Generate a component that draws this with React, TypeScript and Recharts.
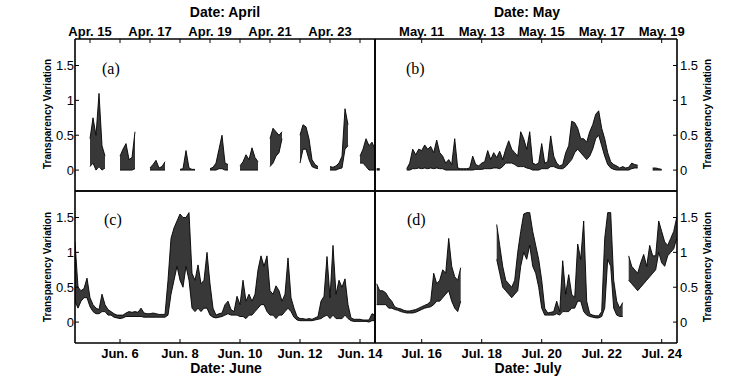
import { AreaChart, Area, XAxis, YAxis } from 'recharts'

// each band entry is [low, high] of the scatter at that time step, null = no data
const STEP = 0.1
const Y_DOMAIN = [-0.3, 1.88]
const Y_TICKS = [0, 0.5, 1, 1.5]

const APR_START = 14.5
const aprilBand = [
  null, null, null, null, null, [0.05, 0.45], [0.1, 0.75], [0, 0.5], [0.05, 1.1], [0, 0.35],
  [0.03, 0.2], null, null, null, null, [0, 0.2], [0, 0.3], [0, 0.38], [0, 0.15], [0, 0.18],
  [0.02, 0.55], null, null, null, null, [0, 0.03], [0, 0.08], [0, 0.14], [0, 0.03], [0, 0.05],
  [0, 0.12], null, null, null, null, [0, 0.01], [0, 0.02], [0, 0.28], [0, 0.03], [0, 0.01],
  [0, 0.01], null, null, null, null, [0, 0.02], [0, 0.04], [0, 0.1], [0.02, 0.3], [0.02, 0.5],
  [0, 0.1], [0, 0.08], null, null, null, [0, 0.06], [0, 0.12], [0, 0.22], [0, 0.15], [0, 0.32],
  [0, 0.18], [0, 0.12], null, null, null, [0.05, 0.45], [0.1, 0.6], [0.2, 0.55], [0.25, 0.5], [0.45, 0.55],
  null, null, null, null, null, [0.1, 0.5], [0.3, 0.65], [0.3, 0.62], [0.15, 0.45], [0.05, 0.15],
  [0.03, 0.08], [0.02, 0.05], null, null, null, [0, 0.05], [0, 0.04], [0, 0.06], [0.02, 0.1], [0.03, 0.2],
  [0.3, 0.88], [0.35, 0.65], null, null, null, [0.1, 0.2], [0.1, 0.3], [0.05, 0.45], [0, 0.35], [0, 0.4],
  [0, 0.3],
]
const aprilTicks = [15, 16, 17, 18, 19, 20, 21, 22, 23, 24]
const aprilLabels = [15, 17, 19, 21, 23]

const MAY_START = 9.5
const mayBand = [
  [0, 0.02], [0, 0.02], null, null, null, null, null, null, null, null,
  [0, 0.02], [0, 0.1], [0.02, 0.3], [0.02, 0.22], [0.03, 0.3], [0.02, 0.28], [0.03, 0.36], [0.02, 0.3], [0.03, 0.34], [0.02, 0.25],
  [0.03, 0.43], [0.02, 0.25], [0.02, 0.2], [0, 0.1], [0, 0.15], [0, 0.08], [0, 0.45], [0, 0.03], [0, 0.02], [0, 0.02],
  [0, 0.02], [0, 0.03], [0, 0.2], [0.01, 0.08], [0.01, 0.06], [0.01, 0.1], [0.02, 0.12], [0.02, 0.28], [0.02, 0.15], [0.03, 0.25],
  [0.03, 0.18], [0.02, 0.27], [0.05, 0.15], [0.1, 0.3], [0.1, 0.42], [0.1, 0.3], [0.08, 0.25], [0.05, 0.2], [0.05, 0.55], [0.05, 0.45],
  [0.03, 0.3], [0.02, 0.55], [0, 0.1], [0, 0.08], [0, 0.1], [0.02, 0.38], [0.02, 0.1], [0.02, 0.12], [0.05, 0.49], [0.05, 0.2],
  [0.03, 0.1], [0.02, 0.06], [0.02, 0.08], [0.05, 0.25], [0.1, 0.35], [0.15, 0.7], [0.25, 0.68], [0.3, 0.6], [0.25, 0.45], [0.2, 0.45],
  [0.15, 0.4], [0.2, 0.55], [0.3, 0.65], [0.45, 0.8], [0.5, 0.85], [0.35, 0.6], [0.2, 0.45], [0.08, 0.25], [0.03, 0.12], [0.01, 0.08],
  [0, 0.06], [0, 0.03], [0, 0.05], [0, 0.03], [0, 0.04], [0.02, 0.1], [0.03, 0.08], [0.03, 0.07], null, null,
  null, null, [0, 0.03], [0, 0.03], [0, 0.02], [0, 0.01], null, null, null, null,
  null,
]
const mayTicks = [11, 13, 15, 17, 19]

const JUN_START = 4.5
const juneBand = [
  [0.3, 1.15], [0.2, 0.5], [0.3, 0.45], [0.35, 0.48], [0.35, 0.63], [0.22, 0.35], [0.15, 0.25], [0.12, 0.2], [0.12, 0.18], [0.15, 0.4],
  [0.15, 0.25], [0.1, 0.18], [0.1, 0.15], [0.07, 0.12], [0.06, 0.1], [0.05, 0.1], [0.06, 0.1], [0.08, 0.13], [0.08, 0.15], [0.08, 0.14],
  [0.08, 0.15], [0.08, 0.14], [0.08, 0.2], [0.07, 0.13], [0.07, 0.12], [0.07, 0.12], [0.07, 0.13], [0.07, 0.12], [0.07, 0.11], [0.07, 0.11],
  [0.07, 0.11], [0.1, 0.6], [0.4, 1.2], [0.6, 1.35], [0.8, 1.45], [0.6, 1.55], [0.5, 1.5], [0.8, 1.5], [0.6, 1.57], [0.2, 0.7],
  [0.15, 0.6], [0.2, 0.82], [0.15, 0.55], [0.2, 0.6], [0.2, 1.0], [0.1, 0.55], [0.07, 0.2], [0.06, 0.1], [0.07, 0.12], [0.08, 0.13],
  [0.1, 0.25], [0.12, 0.3], [0.1, 0.18], [0.1, 0.15], [0.1, 0.37], [0.08, 0.25], [0.08, 0.6], [0.05, 0.3], [0.1, 0.4], [0.1, 0.3],
  [0.15, 0.4], [0.2, 0.75], [0.25, 0.95], [0.25, 0.8], [0.15, 0.95], [0.1, 0.45], [0.1, 0.4], [0.05, 0.52], [0.1, 0.45], [0.1, 0.3],
  [0.15, 0.4], [0.2, 0.92], [0.15, 0.35], [0.07, 0.2], [0.03, 0.08], [0.02, 0.05], [0.02, 0.05], [0.02, 0.04], [0.02, 0.05], [0.02, 0.04],
  [0.03, 0.06], [0.04, 0.08], [0.05, 0.3], [0.08, 0.37], [0.1, 0.94], [0.05, 0.35], [0.1, 1.1], [0.05, 0.4], [0.05, 0.6], [0.05, 0.5],
  [0.1, 0.62], [0.05, 0.25], [0.02, 0.06], [0.01, 0.04], [0.01, 0.04], [0.01, 0.04], [0.01, 0.03], [0.01, 0.03], [0, 0.03], [0.02, 0.12],
  [0.02, 0.1],
]
const juneTicks = [6, 8, 10, 12, 14]

const JUL_START = 14.5
const julyBand = [
  [0.25, 0.55], [0.25, 0.45], [0.25, 0.45], [0.25, 0.42], [0.2, 0.35], [0.2, 0.3], [0.18, 0.22], [0.17, 0.2], [0.15, 0.19], [0.14, 0.17],
  [0.13, 0.16], [0.13, 0.16], [0.13, 0.17], [0.14, 0.18], [0.16, 0.2], [0.18, 0.22], [0.2, 0.24], [0.21, 0.26], [0.22, 0.3], [0.25, 0.7],
  [0.3, 0.55], [0.3, 0.6], [0.35, 0.75], [0.4, 0.7], [0.45, 1.2], [0.3, 0.8], [0.2, 0.65], [0.15, 0.6], [0.3, 0.78], null,
  null, null, null, null, null, null, null, null, null, null,
  [0.9, 1.4], [0.7, 1.1], [0.5, 0.8], [0.45, 0.6], [0.4, 0.55], [0.35, 0.5], [0.4, 0.6], [0.45, 1.0], [0.8, 1.3], [1.0, 1.55],
  [0.9, 1.57], [1.1, 1.57], [0.8, 1.3], [0.7, 1.1], [0.5, 0.9], [0.2, 0.6], [0.1, 0.2], [0.1, 0.13], [0.1, 0.14], [0.1, 0.15],
  [0.12, 0.3], [0.1, 0.15], [0.15, 0.88], [0.15, 0.4], [0.15, 0.68], [0.2, 0.4], [0.2, 0.35], [0.3, 1.12], [0.3, 0.9], [0.15, 1.45],
  [0.1, 0.3], [0.08, 0.12], [0.07, 0.1], [0.06, 0.09], [0.06, 0.09], [0.08, 0.15], [0.2, 1.2], [0.9, 1.57], [0.8, 1.57], [0.2, 0.6],
  [0.1, 0.3], [0.08, 0.2], [0.08, 0.28], null, [0.6, 0.95], [0.55, 0.8], [0.5, 0.75], [0.45, 0.7], [0.5, 0.85], [0.55, 0.97],
  [0.6, 0.8], [0.65, 1.1], [0.7, 0.95], [0.75, 0.95], [1.0, 1.45], [0.85, 1.3], [0.8, 1.15], [0.95, 1.1], [1.0, 1.2], [1.05, 1.3],
  [1.2, 1.5],
]
const julyTicks = [16, 18, 20, 22, 24]

const FONT = "'Liberation Sans', Arial, Helvetica, sans-serif"
const SIDE = 40
const BAND = 25
const PLOT_H = 152

function toRows(start: number, band: (number[] | null)[]) {
  return band.map((b, i) => ({
    day: Math.round((start + i * STEP) * 100) / 100,
    band: b ?? [null, null],
  }))
}

const axisLine = { stroke: '#000', strokeWidth: 1.6 }
const tickLine = { stroke: '#000', strokeWidth: 1 }
const xTickStyle = { fill: '#000', fontSize: 13, fontWeight: 'bold', fontFamily: FONT }
const yTickStyle = { fill: '#000', fontSize: 13, fontFamily: FONT }

interface PanelProps {
  left: number
  top: number
  plotW: number
  rows: { day: number; band: (number | null)[] }[]
  domain: number[]
  topTicks: number[]
  bottomTicks: number[]
  topLabel?: (d: number) => string
  bottomLabel?: (d: number) => string
  leftLabels?: boolean
  rightLabels?: boolean
}

function Panel({ left, top, plotW, rows, domain, topTicks, bottomTicks, topLabel, bottomLabel, leftLabels, rightLabels }: PanelProps) {
  return (
    <div style={{ position: 'absolute', left: left - SIDE, top: top - BAND }}>
      <AreaChart
        width={plotW + 2 * SIDE}
        height={PLOT_H + 2 * BAND}
        data={rows}
        margin={{ top: 0, right: 0, bottom: 0, left: 0 }}
      >
        <XAxis
          xAxisId="t"
          orientation="top"
          type="number"
          dataKey="day"
          domain={domain}
          allowDataOverflow
          ticks={topTicks}
          interval={0}
          height={BAND}
          tickSize={-4}
          tickMargin={7}
          tick={topLabel ? xTickStyle : false}
          tickFormatter={topLabel}
          axisLine={axisLine}
          tickLine={tickLine}
        />
        <XAxis
          xAxisId="b"
          orientation="bottom"
          type="number"
          dataKey="day"
          domain={domain}
          allowDataOverflow
          ticks={bottomTicks}
          interval={0}
          height={BAND}
          tickSize={-4}
          tickMargin={10}
          tick={bottomLabel ? xTickStyle : false}
          tickFormatter={bottomLabel}
          axisLine={axisLine}
          tickLine={tickLine}
        />
        <YAxis
          yAxisId="l"
          orientation="left"
          type="number"
          domain={Y_DOMAIN}
          allowDataOverflow
          ticks={Y_TICKS}
          interval={0}
          width={SIDE}
          tickSize={-4}
          tickMargin={5}
          tick={leftLabels ? yTickStyle : false}
          axisLine={axisLine}
          tickLine={tickLine}
        />
        <YAxis
          yAxisId="r"
          orientation="right"
          type="number"
          domain={Y_DOMAIN}
          allowDataOverflow
          ticks={Y_TICKS}
          interval={0}
          width={SIDE}
          tickSize={-4}
          tickMargin={7}
          tick={rightLabels ? yTickStyle : false}
          axisLine={axisLine}
          tickLine={tickLine}
        />
        <Area
          xAxisId="b"
          yAxisId="l"
          type="linear"
          dataKey="band"
          stroke="#000"
          strokeWidth={0.9}
          fill="#000"
          fillOpacity={0.78}
          dot={false}
          activeDot={false}
          isAnimationActive={false}
        />
      </AreaChart>
    </div>
  )
}

const titleStyle = {
  position: 'absolute' as const,
  transform: 'translate(-50%, -50%)',
  fontFamily: FONT,
  fontWeight: 'bold',
  fontSize: 14,
  whiteSpace: 'nowrap' as const,
  color: '#000',
}

const yLabelStyle = {
  position: 'absolute' as const,
  transform: 'translate(-50%, -50%) rotate(-90deg)',
  fontFamily: FONT,
  fontWeight: 'bold',
  fontSize: 10,
  whiteSpace: 'nowrap' as const,
  color: '#000',
}

const tagStyle = {
  position: 'absolute' as const,
  transform: 'translateY(-50%)',
  fontFamily: "'Liberation Serif', 'Times New Roman', serif",
  fontSize: 16,
  color: '#000',
}

export default function App() {
  return (
    <div style={{ position: 'absolute', left: 0, top: 0, width: 753, height: 382, background: '#fff', overflow: 'hidden' }}>
      <Panel
        left={75}
        top={39}
        plotW={300}
        rows={toRows(APR_START, aprilBand)}
        domain={[14.5, 24.5]}
        topTicks={aprilTicks}
        bottomTicks={aprilTicks}
        topLabel={(d) => (aprilLabels.includes(d) ? `Apr. ${d}` : '')}
        leftLabels
      />
      <Panel
        left={375}
        top={39}
        plotW={302}
        rows={toRows(MAY_START, mayBand)}
        domain={[9.443, 19.51]}
        topTicks={mayTicks}
        bottomTicks={mayTicks}
        topLabel={(d) => `May. ${d}`}
        rightLabels
      />
      <Panel
        left={75}
        top={191}
        plotW={300}
        rows={toRows(JUN_START, juneBand)}
        domain={[4.5, 14.5]}
        topTicks={juneTicks}
        bottomTicks={juneTicks}
        bottomLabel={(d) => `Jun. ${d}`}
        leftLabels
      />
      <Panel
        left={375}
        top={191}
        plotW={302}
        rows={toRows(JUL_START, julyBand)}
        domain={[14.443, 24.51]}
        topTicks={julyTicks}
        bottomTicks={julyTicks}
        bottomLabel={(d) => `Jul. ${d}`}
        rightLabels
      />

      <div style={{ ...titleStyle, left: 225, top: 12 }}>Date: April</div>
      <div style={{ ...titleStyle, left: 527, top: 12 }}>Date: May</div>
      <div style={{ ...titleStyle, left: 226, top: 368 }}>Date: June</div>
      <div style={{ ...titleStyle, left: 528, top: 368 }}>Date: July</div>

      <div style={{ ...yLabelStyle, left: 47, top: 114 }}>Transparency Variation</div>
      <div style={{ ...yLabelStyle, left: 47, top: 267 }}>Transparency Variation</div>
      <div style={{ ...yLabelStyle, left: 707, top: 114 }}>Transparency Variation</div>
      <div style={{ ...yLabelStyle, left: 707, top: 267 }}>Transparency Variation</div>

      <div style={{ ...tagStyle, left: 102, top: 69 }}>(a)</div>
      <div style={{ ...tagStyle, left: 406, top: 69 }}>(b)</div>
      <div style={{ ...tagStyle, left: 104, top: 220 }}>(c)</div>
      <div style={{ ...tagStyle, left: 407, top: 220 }}>(d)</div>
    </div>
  )
}
